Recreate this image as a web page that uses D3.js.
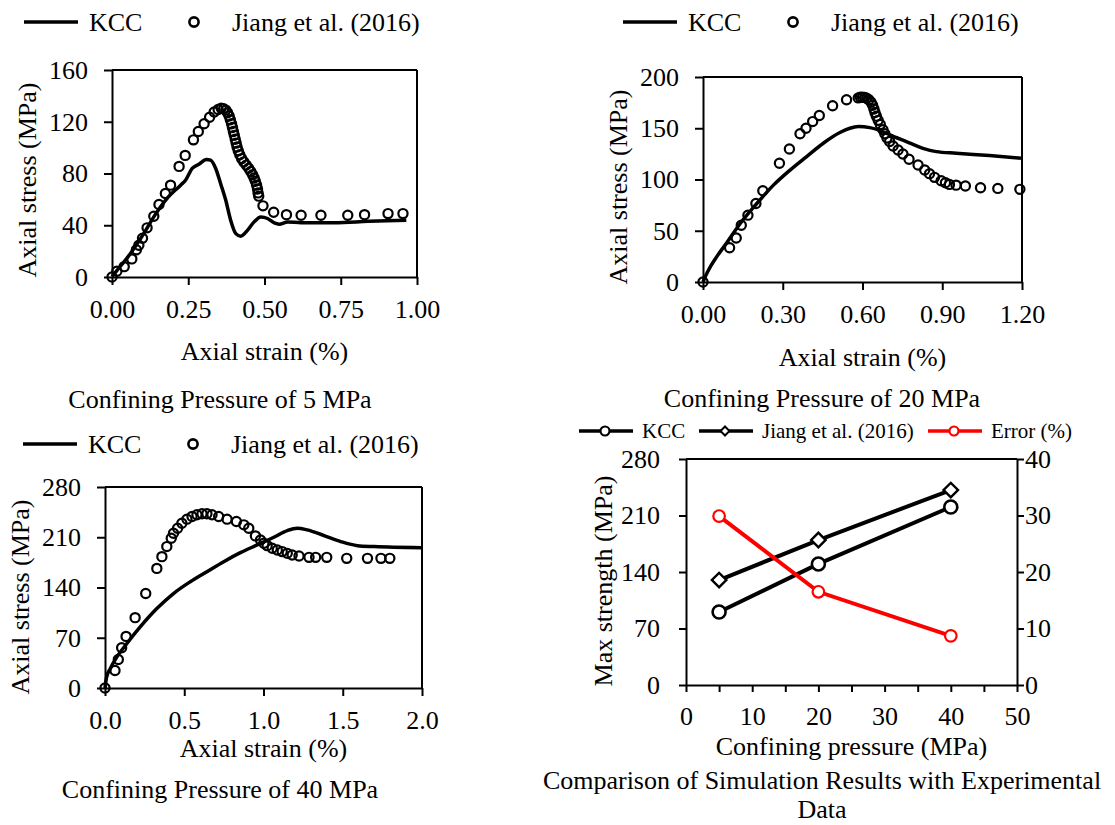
<!DOCTYPE html>
<html>
<head>
<meta charset="utf-8">
<script src="https://cdn.jsdelivr.net/npm/d3@7"></script>
<style>
  body { margin: 0; background: #fff; }
  svg { display: block; }
  text { font-family: "Liberation Serif", "Times New Roman", serif; fill: #000; }
</style>
</head>
<body>
<div id="chart"></div>
<script>
// ---- data: axial strain (%), axial stress (MPa) ----
const kcc5 = [[0,0.5],[0.016,5],[0.06,18],[0.104,33.5],[0.137,46.5],[0.18,60.6],[0.225,71],[0.241,74.8],[0.263,83.9],[0.285,87.2],[0.31,90.8],[0.323,90.3],[0.34,83.9],[0.356,72.3],[0.373,59.3],[0.389,43.9],[0.406,33.5],[0.422,31.5],[0.444,36],[0.466,42.6],[0.488,46.4],[0.51,45.2],[0.532,41.8],[0.548,40.8],[0.576,42.6],[0.62,42],[0.73,42],[0.84,43],[0.965,43.9]];
const jiang5 = [[0,0],[0.016,4.5],[0.04,8],[0.065,14],[0.08,21],[0.088,24.5],[0.1,30],[0.115,38],[0.137,47],[0.154,56],[0.175,64.5],[0.192,71],[0.22,85.5],[0.24,94],[0.267,106],[0.283,112.5],[0.302,118.5],[0.32,123.5],[0.335,127.5],[0.348,129.5],[0.358,130.5],[0.366,130],[0.373,129],[0.379,127],[0.384,124.5],[0.388,121.5],[0.392,118.5],[0.395,115.5],[0.398,112.5],[0.401,109.5],[0.404,106.5],[0.407,103.5],[0.41,100.5],[0.414,97.5],[0.419,94.5],[0.425,91.5],[0.432,89],[0.44,86.5],[0.448,84],[0.455,81.5],[0.461,79],[0.466,76.5],[0.47,74],[0.474,71],[0.477,68],[0.479,65],[0.481,62.5],[0.495,55],[0.53,50],[0.572,48.2],[0.62,47.7],[0.685,47.7],[0.773,47.7],[0.828,48.2],[0.905,49],[0.954,49]];

const kcc20 = [[0,0],[0.01,6],[0.03,16],[0.0525,25],[0.09,38.5],[0.14,57.1],[0.2025,76.6],[0.265,94.5],[0.3275,109.2],[0.39,122.4],[0.4525,135.4],[0.515,145.8],[0.5525,150],[0.584,151.6],[0.6275,150.6],[0.659,148.4],[0.7025,143.6],[0.765,137],[0.8275,130.4],[0.8775,127.2],[0.9525,125.6],[1.0775,123.3],[1.196,120.7]];
const jiang20 = [[0,0],[0.1,33.4],[0.125,43],[0.144,55.4],[0.169,65.2],[0.199,76.6],[0.225,89],[0.2875,115.8],[0.325,129.8],[0.365,144.6],[0.3875,150],[0.4125,156.5],[0.4375,162.4],[0.4875,171.9],[0.54,177.8],[0.584,179.6],[0.592,180.2],[0.6,180.3],[0.608,180],[0.616,179.3],[0.624,177.8],[0.632,175.4],[0.638,172.4],[0.643,168.8],[0.647,165.3],[0.652,161.8],[0.659,157.7],[0.667,153.7],[0.677,148.6],[0.684,144.6],[0.692,140.5],[0.702,137],[0.715,132.7],[0.734,128.8],[0.752,124.9],[0.775,119.7],[0.809,114.2],[0.834,109.2],[0.852,105.7],[0.871,102.1],[0.896,98.8],[0.912,96.9],[0.927,95.2],[0.952,94.5],[0.987,93.6],[1.044,92],[1.109,91.3],[1.192,90.4]];

const kcc40 = [[0,0],[0.01,15],[0.032,26.6],[0.074,43],[0.137,61.6],[0.222,85],[0.327,110.6],[0.432,131.6],[0.538,148],[0.643,162],[0.749,176],[0.854,188.5],[0.96,199.3],[1.065,210],[1.15,219.3],[1.213,222.6],[1.276,220.3],[1.382,212.3],[1.487,204],[1.593,198.3],[1.698,197],[1.994,195.5]];
const jiang40 = [[0,0],[0.063,24.3],[0.084,39.7],[0.105,56],[0.133,71.9],[0.19,98],[0.257,131.6],[0.327,166.6],[0.359,183],[0.39,197],[0.418,208.6],[0.432,215.6],[0.458,222.6],[0.485,229.6],[0.517,235.2],[0.549,239],[0.58,241.3],[0.612,242.7],[0.643,242.7],[0.675,241.3],[0.717,239],[0.77,235.2],[0.829,232],[0.876,227.3],[0.907,222.6],[0.949,211.9],[0.981,206.3],[1.002,201.6],[1.023,198.3],[1.055,194.6],[1.087,192.3],[1.118,190],[1.15,187.6],[1.181,185.3],[1.224,183.9],[1.287,182],[1.329,182],[1.399,182],[1.525,180.6],[1.656,180.6],[1.741,180.6],[1.797,180.6]];

// ---- comparison panel ----
const pressures = [5, 20, 40];
const kccMax = [90.5, 150, 220.5];
const jiangMax = [130, 179.6, 241.5];
const errorPct = [29.9, 16.5, 8.7];

const ticks5x = [0, 0.25, 0.5, 0.75, 1.0], ticks5y = [0, 40, 80, 120, 160];
const ticks20x = [0, 0.3, 0.6, 0.9, 1.2], ticks20y = [0, 50, 100, 150, 200];
const ticks40x = [0, 0.5, 1.0, 1.5, 2.0], ticks40y = [0, 70, 140, 210, 280];
const ticksPx = [0, 10, 20, 30, 40, 50], ticksMax = [0, 70, 140, 210, 280], ticksErr = [0, 10, 20, 30, 40];

const W = 1115, H = 825, FS = 26;
const svg = d3.select("#chart").append("svg").attr("width", W).attr("height", H);

function styleAxis(g) {
  g.selectAll("path.domain, .tick line").attr("stroke", "#000").attr("stroke-width", 2);
  g.selectAll(".tick text").attr("font-size", FS).attr("font-family", null);
}

function strainPanel(o) {
  const x = d3.scaleLinear().domain(o.xd).range([o.l, o.r]);
  const y = d3.scaleLinear().domain(o.yd).range([o.b, o.t]);
  const g = svg.append("g");

  g.append("line").attr("x1", o.l).attr("x2", o.r).attr("y1", o.t).attr("y2", o.t).attr("stroke", "#000").attr("stroke-width", 2);
  g.append("line").attr("x1", o.r).attr("x2", o.r).attr("y1", o.t).attr("y2", o.b).attr("stroke", "#000").attr("stroke-width", 2);
  g.append("g").attr("transform", `translate(0,${o.b})`)
    .call(d3.axisBottom(x).tickValues(o.xt).tickFormat(d3.format(o.xf)).tickSize(8).tickSizeOuter(0).tickPadding(15))
    .call(styleAxis);
  g.append("g").attr("transform", `translate(${o.l},0)`)
    .call(d3.axisLeft(y).tickValues(o.yt).tickSize(8).tickSizeOuter(0).tickPadding(16))
    .call(styleAxis);

  g.append("path").datum(o.kcc)
    .attr("d", d3.line().x((d) => x(d[0])).y((d) => y(d[1])).curve(d3.curveMonotoneX))
    .attr("fill", "none").attr("stroke", "#000").attr("stroke-width", 3.5).attr("stroke-linejoin", "round");
  g.append("g").selectAll("circle").data(o.exp).join("circle")
    .attr("cx", (d) => x(d[0])).attr("cy", (d) => y(d[1])).attr("r", 4.6)
    .attr("fill", "none").attr("stroke", "#000").attr("stroke-width", 2.2);

  g.append("text").attr("transform", `translate(${o.ytx},${o.yty}) rotate(-90)`)
    .attr("text-anchor", "middle").attr("font-size", FS).text("Axial stress (MPa)");
  g.append("text").attr("x", (o.l + o.r) / 2).attr("y", o.xty)
    .attr("text-anchor", "middle").attr("font-size", FS).text("Axial strain (%)");
  g.append("text").attr("x", o.cx).attr("y", o.cy)
    .attr("text-anchor", "middle").attr("font-size", FS).text(o.caption);

  // legend
  const lg = g.append("g").attr("transform", `translate(${o.lgx},${o.lgy})`);
  lg.append("line").attr("x1", 0).attr("x2", 54).attr("stroke", "#000").attr("stroke-width", 3.5);
  lg.append("text").attr("x", 65).attr("dy", "0.35em").attr("font-size", FS).text("KCC");
  lg.append("circle").attr("cx", 170).attr("r", 4.6).attr("fill", "none").attr("stroke", "#000").attr("stroke-width", 2.6);
  lg.append("text").attr("x", 208).attr("dy", "0.35em").attr("font-size", FS).text("Jiang et al. (2016)");
}

strainPanel({ l: 112, r: 417, t: 70, b: 277, xd: [0, 1], yd: [0, 160], xt: ticks5x, yt: ticks5y, xf: ".2f",
  kcc: kcc5, exp: jiang5, ytx: 36, yty: 180, xty: 360, cx: 220, cy: 408,
  caption: "Confining Pressure of 5 MPa", lgx: 24, lgy: 22 });
strainPanel({ l: 703, r: 1022, t: 77, b: 282, xd: [0, 1.2], yd: [0, 200], xt: ticks20x, yt: ticks20y, xf: ".2f",
  kcc: kcc20, exp: jiang20, ytx: 627, yty: 187, xty: 366, cx: 822, cy: 407,
  caption: "Confining Pressure of 20 MPa", lgx: 623, lgy: 22 });
strainPanel({ l: 105, r: 422, t: 487, b: 688, xd: [0, 2], yd: [0, 280], xt: ticks40x, yt: ticks40y, xf: ".1f",
  kcc: kcc40, exp: jiang40, ytx: 29, yty: 597, xty: 757, cx: 220, cy: 798,
  caption: "Confining Pressure of 40 MPa", lgx: 23, lgy: 444 });

// ---- comparison panel ----
(function () {
  const l = 686, r = 1017, t = 459, b = 685;
  const x = d3.scaleLinear().domain([0, 50]).range([l, r]);
  const y = d3.scaleLinear().domain([0, 280]).range([b, t]);
  const y2 = d3.scaleLinear().domain([0, 40]).range([b, t]);
  const g = svg.append("g");

  g.append("line").attr("x1", l).attr("x2", r).attr("y1", t).attr("y2", t).attr("stroke", "#000").attr("stroke-width", 2);
  g.append("g").attr("transform", `translate(0,${b})`)
    .call(d3.axisBottom(x).tickValues(d3.range(0, 51, 5)).tickFormat((d) => ticksPx.includes(d) ? d : "")
      .tickSize(7).tickSizeOuter(0).tickPadding(15))
    .call(styleAxis);
  g.append("g").attr("transform", `translate(${l},0)`)
    .call(d3.axisLeft(y).tickValues(ticksMax).tickSize(7).tickSizeOuter(0).tickPadding(19))
    .call(styleAxis);
  g.append("g").attr("transform", `translate(${r},0)`)
    .call(d3.axisRight(y2).tickValues(ticksErr).tickSize(7).tickSizeOuter(0).tickPadding(1))
    .call(styleAxis);

  const line = (vals, sc) => d3.line().x((d, i) => x(pressures[i])).y((d) => sc(d))(vals);
  g.append("path").attr("d", line(kccMax, y)).attr("fill", "none").attr("stroke", "#000").attr("stroke-width", 4);
  g.append("path").attr("d", line(jiangMax, y)).attr("fill", "none").attr("stroke", "#000").attr("stroke-width", 4);
  g.append("path").attr("d", line(errorPct, y2)).attr("fill", "none").attr("stroke", "#ff0000").attr("stroke-width", 4);

  g.append("g").selectAll("circle").data(kccMax).join("circle")
    .attr("cx", (d, i) => x(pressures[i])).attr("cy", (d) => y(d)).attr("r", 6.5)
    .attr("fill", "#fff").attr("stroke", "#000").attr("stroke-width", 2.6);
  const diamond = d3.symbol(d3.symbolSquare, 105);
  g.append("g").selectAll("path").data(jiangMax).join("path")
    .attr("d", diamond)
    .attr("transform", (d, i) => `translate(${x(pressures[i])},${y(d)}) rotate(45)`)
    .attr("fill", "#fff").attr("stroke", "#000").attr("stroke-width", 2.4);
  g.append("g").selectAll("circle").data(errorPct).join("circle")
    .attr("cx", (d, i) => x(pressures[i])).attr("cy", (d) => y2(d)).attr("r", 5.8)
    .attr("fill", "#fff").attr("stroke", "#ff0000").attr("stroke-width", 2.2);

  g.append("text").attr("transform", `translate(612,581) rotate(-90)`)
    .attr("text-anchor", "middle").attr("font-size", FS).text("Max strength (MPa)");
  g.append("text").attr("x", (l + r) / 2).attr("y", 755)
    .attr("text-anchor", "middle").attr("font-size", FS).text("Confining pressure (MPa)");
  g.append("text").attr("x", 822).attr("y", 789)
    .attr("text-anchor", "middle").attr("font-size", FS).text("Comparison of Simulation Results with Experimental");
  g.append("text").attr("x", 822).attr("y", 818)
    .attr("text-anchor", "middle").attr("font-size", FS).text("Data");

  // legend
  const lg = g.append("g").attr("transform", "translate(0,431)");
  const items = [
    { x0: 579, label: "KCC", color: "#000", mark: "circle" },
    { x0: 699, label: "Jiang et al. (2016)", color: "#000", mark: "diamond" },
    { x0: 928, label: "Error (%)", color: "#ff0000", mark: "circle" },
  ];
  items.forEach((it) => {
    lg.append("line").attr("x1", it.x0).attr("x2", it.x0 + 54).attr("stroke", it.color).attr("stroke-width", 3.5);
    if (it.mark === "circle") {
      lg.append("circle").attr("cx", it.x0 + 26).attr("r", 4.5).attr("fill", "#fff").attr("stroke", it.color).attr("stroke-width", 2.2);
    } else {
      lg.append("path").attr("d", d3.symbol(d3.symbolSquare, 40)).attr("transform", `translate(${it.x0 + 26},0) rotate(45)`)
        .attr("fill", "#fff").attr("stroke", it.color).attr("stroke-width", 2);
    }
    lg.append("text").attr("x", it.x0 + 63).attr("dy", "0.35em").attr("font-size", 21).text(it.label);
  });
})();
</script>
</body>
</html>
